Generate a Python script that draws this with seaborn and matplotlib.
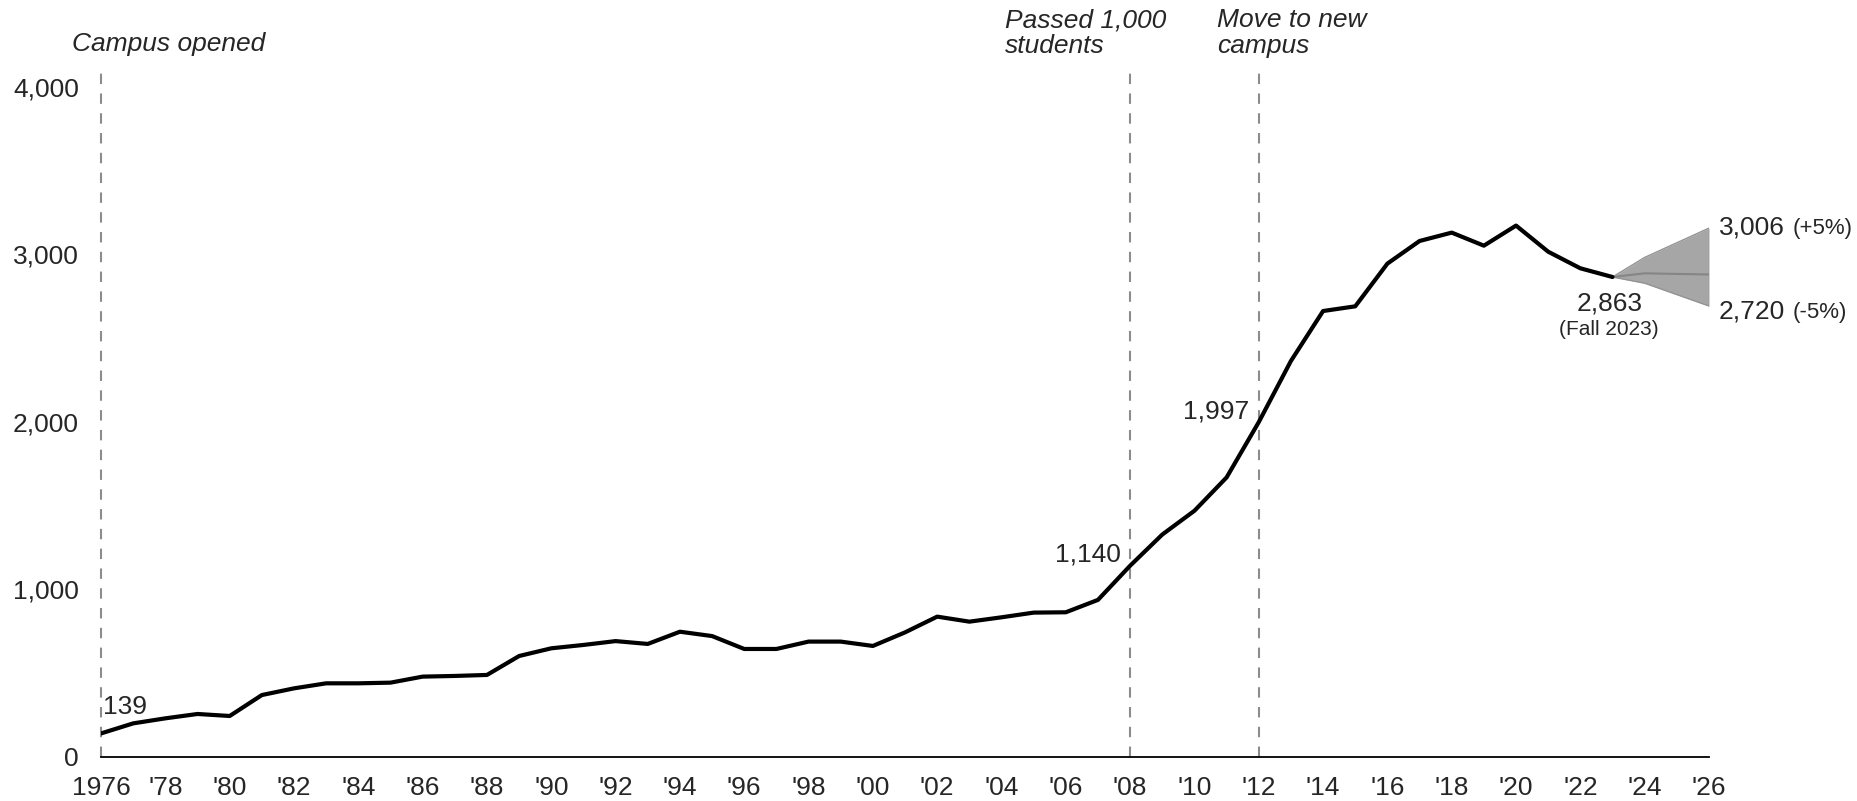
import matplotlib
matplotlib.use('Agg')
import matplotlib.pyplot as plt
import seaborn as sns
import pandas as pd

years = list(range(1976, 2024))
enrollment = [139, 199, 229, 255, 243, 368, 408, 438, 438, 442,
              478, 482, 488, 601, 647, 667, 690, 673, 746, 720,
              643, 643, 687, 687, 661, 742, 836, 806, 832, 860,
              862, 936, 1140, 1326, 1468, 1667, 1997, 2362, 2660, 2688,
              2943, 3078, 3128, 3050, 3170, 3014, 2915, 2863]

forecast_years = [2023, 2024, 2026]
forecast_upper = [2863, 2980, 3155]
forecast_lower = [2863, 2826, 2690]
forecast_mid = [2863, 2885, 2878]

events = [(1976, 'Campus opened'), (2008, 'Passed 1,000\nstudents'), (2012, 'Move to new\ncampus')]
event_text_x = [1975.1, 2004.1, 2010.7]

tick_years = list(range(1976, 2027, 2))
tick_labels = ['1976'] + ["'" + str(y)[2:] for y in tick_years[1:]]

data = pd.DataFrame({'year': years, 'students': enrollment})

sns.set_style('white')
plt.rcParams['font.family'] = ['Liberation Sans', 'DejaVu Sans']

fig = plt.figure(figsize=(18.58, 8.01), dpi=100)
ax = fig.add_axes([0.0544, 0.0553, 0.8654, 0.8367])

# forecast cone
ax.fill_between(forecast_years, forecast_lower, forecast_upper, color='#a6a6a6', lw=0, zorder=2)
ax.plot(forecast_years, forecast_upper, color='#939393', lw=1, zorder=2)
ax.plot(forecast_years, forecast_lower, color='#939393', lw=1, zorder=2)
ax.plot(forecast_years, forecast_mid, color='#858585', lw=1.5, zorder=3)
ax.plot([2026, 2026], [forecast_lower[-1], forecast_upper[-1]], color='#939393', lw=1, zorder=2)

sns.lineplot(ax=ax, data=data, x='year', y='students', color='black', lw=3, zorder=4)

for (yr, label), tx in zip(events, event_text_x):
    ax.plot([yr, yr], [0, 4128], color='#8c8c8c', lw=1.5, ls=(0, (5, 4.5)), clip_on=False, zorder=1)
    ax.text(tx, 4318 if '\n' in label else 4255, label, fontsize=19, style='italic',
            ha='left', va='center', clip_on=False, linespacing=1.1)

# point labels
ax.text(1976.05, 294, '139', fontsize=19, ha='left', va='center')
ax.text(2007.7, 1207, '1,140', fontsize=19, ha='right', va='center')
ax.text(2011.7, 2058, '1,997', fontsize=19, ha='right', va='center')
ax.text(2022.9, 2707, '2,863', fontsize=19, ha='center', va='center')
ax.text(2022.9, 2547, '(Fall 2023)', fontsize=15, ha='center', va='center')
ax.text(2026.3, 3156, '3,006', fontsize=19, ha='left', va='center', clip_on=False)
ax.text(2028.6, 3150, '(+5%)', fontsize=16, ha='left', va='center', clip_on=False)
ax.text(2026.3, 2657, '2,720', fontsize=19, ha='left', va='center', clip_on=False)
ax.text(2028.6, 2651, '(-5%)', fontsize=16, ha='left', va='center', clip_on=False)

ax.set_xlim(1976, 2026)
ax.set_ylim(0, 4000)
ax.set_xticks(tick_years)
ax.set_xticklabels(tick_labels)
ax.set_yticks([0, 1000, 2000, 3000, 4000])
ax.set_yticklabels(['0', '1,000', '2,000', '3,000', '4,000'])
ax.tick_params(axis='both', length=0, labelsize=19)
ax.tick_params(axis='y', pad=16)
ax.tick_params(axis='x', pad=14)
ax.set_xlabel('')
ax.set_ylabel('')

for side in ['top', 'right', 'left']:
    ax.spines[side].set_visible(False)
ax.spines['bottom'].set_color('black')
ax.spines['bottom'].set_linewidth(1.3)
ax.patch.set_alpha(0)

fig.savefig('out.png', dpi=100)
